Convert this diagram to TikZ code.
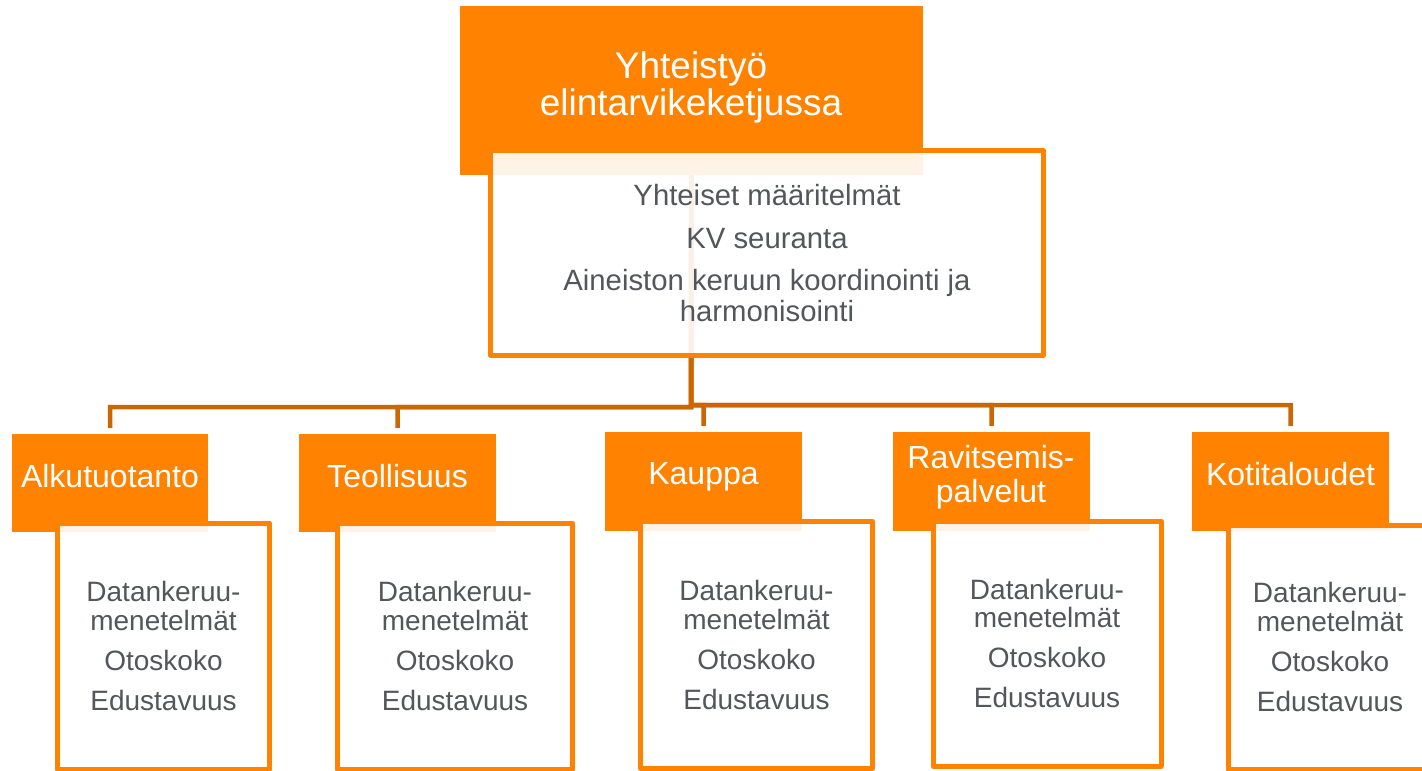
\documentclass[tikz,border=0pt]{standalone}
\usepackage{fontspec}
\setmainfont{Liberation Sans}
\definecolor{orng}{HTML}{FF8300}
\definecolor{connc}{HTML}{CC6600}
\definecolor{txtc}{HTML}{53565A}
\pgfdeclarelayer{background}
\pgfsetlayers{background,main}
\begin{document}
\begin{tikzpicture}[x=1pt,y=-1pt,
  hdrbox/.style={fill=orng, draw=none, inner sep=0pt},
  hdrtxt/.style={text=white, align=center, inner sep=0pt, font=\fontsize{32}{34}\selectfont},
  panel/.style={draw=orng, line width=5pt, line join=round, fill=white, fill opacity=0.9, text opacity=1,
    text=txtc, align=center, inner sep=0pt, font=\fontsize{28}{28.5}\selectfont},
  link/.style={draw=connc, line width=4.5pt}]
\useasboundingbox (0,0) rectangle (1422,771);

% coordinates of the bus
\coordinate (busL) at (691,407);
\coordinate (busR) at (691,405);

% header boxes
\node[hdrbox, minimum width=463pt, minimum height=169pt] (title) at (691.5,90.5) {};
\node[hdrbox, minimum width=196pt, minimum height=98pt] (h1) at (110,483) {};
\node[hdrbox, minimum width=197pt, minimum height=98pt] (h2) at (397.5,483) {};
\node[hdrbox, minimum width=197pt, minimum height=99pt] (h3) at (703.5,481.5) {};
\node[hdrbox, minimum width=197pt, minimum height=99pt] (h4) at (991.5,481.5) {};
\node[hdrbox, minimum width=197pt, minimum height=99pt] (h5) at (1290.5,481.5) {};

% connectors
\begin{pgfonlayer}{background}
\draw[link] (title.center) -- (busL) -| ([yshift=6pt]h1.north);
\draw[link] (title.center) -- (busL) -| ([yshift=6pt]h2.north);
\draw[link] (title.center) -- (busR) -| ([yshift=6pt]h3.north);
\draw[link] (title.center) -- (busR) -| ([yshift=6pt]h4.north);
\draw[link] (title.center) -- (busR) -| ([yshift=6pt]h5.north);
\end{pgfonlayer}

% header texts
\node[hdrtxt, font=\fontsize{37}{37}\selectfont] (titletxt) at (691,87) {Yhteistyö\\elintarvikeketjussa};
\node[hdrtxt, anchor=base] (l1) at (110,487) {Alkutuotanto};
\node[hdrtxt, anchor=base] (l2) at (397.5,487) {Teollisuus};
\node[hdrtxt, anchor=base] (l3) at (703.5,484) {Kauppa};
\node[hdrtxt] (l4) at (991,477) {Ravitsemis-\\palvelut};
\node[hdrtxt, anchor=base] (l5) at (1290.5,485) {Kotitaloudet};

% panels
\node[panel, minimum width=553pt, minimum height=205pt, font=\fontsize{29.3}{30.5}\selectfont] (main) at (767,253)
  {Yhteiset määritelmät\\[12pt]KV seuranta\\[12pt]Aineiston keruun koordinointi ja\\harmonisointi};
\node[panel, minimum width=212pt, minimum height=246pt] (p1) at (163.5,646)
  {Datankeruu-\\menetelmät\\[11.5pt]Otoskoko\\[11.5pt]Edustavuus};
\node[panel, minimum width=235pt, minimum height=246pt] (p2) at (455,646)
  {Datankeruu-\\menetelmät\\[11.5pt]Otoskoko\\[11.5pt]Edustavuus};
\node[panel, minimum width=232pt, minimum height=247pt] (p3) at (756.5,645)
  {Datankeruu-\\menetelmät\\[11.5pt]Otoskoko\\[11.5pt]Edustavuus};
\node[panel, minimum width=228pt, minimum height=245pt] (p4) at (1047,643.5)
  {Datankeruu-\\menetelmät\\[11.5pt]Otoskoko\\[11.5pt]Edustavuus};
\node[panel, minimum width=204pt, minimum height=244pt] (p5) at (1330,647)
  {Datankeruu-\\menetelmät\\[11.5pt]Otoskoko\\[11.5pt]Edustavuus};
\end{tikzpicture}
\end{document}
